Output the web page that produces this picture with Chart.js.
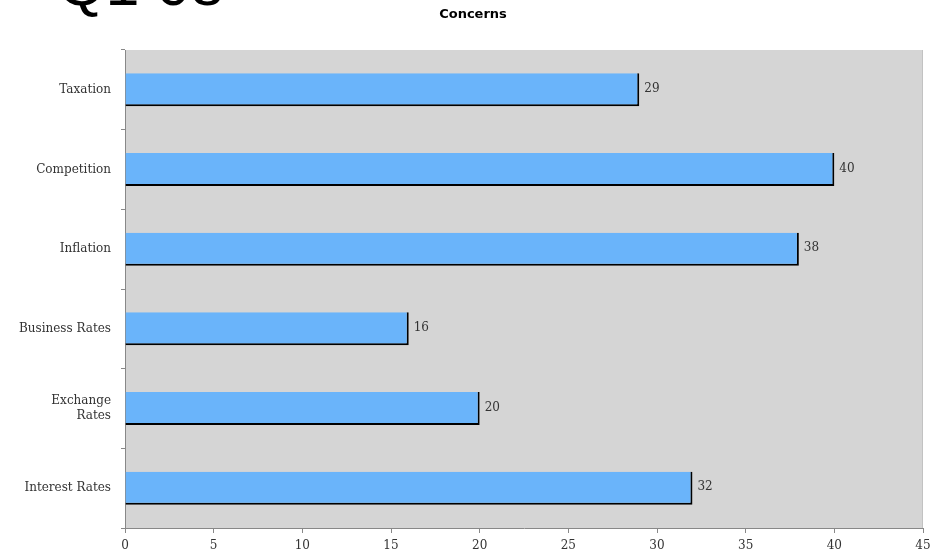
<!DOCTYPE html>
<html>
<head>
<meta charset="utf-8">
<script src="https://cdn.jsdelivr.net/npm/chart.js@4/dist/chart.umd.min.js"></script>
<style>
  body { margin: 0; background: #fff; }
  #wrap { position: relative; width: 933px; height: 560px; overflow: hidden; }
  #big { position: absolute; left: 58px; top: -46px; font: 61px/60px "Liberation Sans", Arial, sans-serif; color: #000; }
  canvas { position: absolute; left: 0; top: 0; }
</style>
</head>
<body>
<div id="wrap">
  <canvas id="concerns-chart" width="933" height="560"></canvas>
  <div id="big">Q1 08</div>
</div>
<script>
// chart data
const categories = ['Taxation', 'Competition', 'Inflation', 'Business Rates', ['Exchange', 'Rates'], 'Interest Rates'];
const counts = [29, 40, 38, 16, 20, 32];
const xTicks = [0, 5, 10, 15, 20, 25, 30, 35, 40, 45];
const chartTitle = 'Concerns';

const labelFont = { family: 'DejaVu Serif', size: 12 };

// grey plot area behind the bars, plus the title
const plotBg = {
    id: 'plotBg',
    beforeDraw(chart) {
        const { ctx, chartArea: a } = chart;
        ctx.save();
        ctx.fillStyle = '#d5d5d5';
        ctx.fillRect(a.left, a.top, a.right - a.left, a.bottom - a.top);
        ctx.strokeStyle = '#c2c2c2';
        ctx.lineWidth = 1;
        ctx.beginPath();
        ctx.moveTo(a.right - 0.5, a.top);
        ctx.lineTo(a.right - 0.5, a.bottom);
        ctx.stroke();

        ctx.fillStyle = '#000';
        ctx.font = 'bold 13px "DejaVu Sans"';
        ctx.textAlign = 'center';
        ctx.textBaseline = 'middle';
        ctx.fillText(chartTitle, 473, 15);
        ctx.restore();
    }
};

// value next to the end of each bar
const valueLabels = {
    id: 'valueLabels',
    afterDatasetsDraw(chart) {
        const { ctx } = chart;
        const meta = chart.getDatasetMeta(0);
        ctx.save();
        ctx.font = '12px "DejaVu Serif"';
        ctx.fillStyle = '#333';
        ctx.textBaseline = 'middle';
        meta.data.forEach((bar, i) => {
            ctx.fillText(counts[i], bar.x + 5, bar.y - 1);
        });
        ctx.restore();
    }
};

const ctx = document.getElementById('concerns-chart').getContext('2d');
new Chart(ctx, {
    type: 'bar',
    data: {
        labels: categories,
        datasets: [{
            data: counts,
            backgroundColor: '#6ab4fa',
            borderColor: '#000',
            borderWidth: { top: 0, left: 0, right: 2, bottom: 2 },
            borderSkipped: false,
            barPercentage: 0.9,
            categoryPercentage: 0.46
        }]
    },
    options: {
        indexAxis: 'y',
        responsive: false,
        animation: false,
        layout: { padding: { left: 0, right: 0, top: 50, bottom: 0 } },
        plugins: {
            legend: { display: false },
            tooltip: { enabled: false },
            title: { display: false }
        },
        scales: {
            x: {
                min: 0,
                max: 45,
                afterBuildTicks(axis) {
                    axis.ticks = xTicks.map(v => ({ value: v }));
                },
                afterFit(axis) {
                    axis.height = 32;
                    axis.paddingRight = 10;
                },
                grid: { drawOnChartArea: false, tickLength: 5, color: '#888' },
                border: { color: '#888' },
                ticks: { color: '#333', font: labelFont, padding: 6, autoSkip: false }
            },
            y: {
                afterFit(axis) { axis.width = 125; },
                grid: { drawOnChartArea: false, tickLength: 4, color: '#888', offset: true },
                border: { color: '#888' },
                ticks: { color: '#333', font: labelFont, padding: 10 }
            }
        }
    },
    plugins: [plotBg, valueLabels]
});
</script>
</body>
</html>
